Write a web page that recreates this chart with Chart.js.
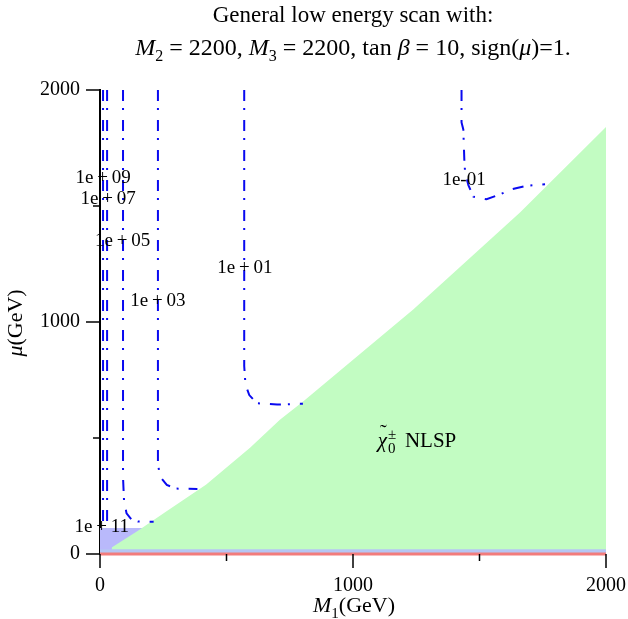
<!DOCTYPE html>
<html>
<head>
<meta charset="utf-8">
<script src="https://cdn.jsdelivr.net/npm/chart.js@4.4.0/dist/chart.umd.min.js"></script>
<style>
    body { margin: 0; background: #fff; }
    #wrap { width: 628px; height: 619px; }
</style>
</head>
<body>
<div id="wrap"><canvas id="chart" width="628" height="619"></canvas></div>
<script>
// axis ticks (only the thousands get a label)
const tickValues = [0, 500, 1000, 1500, 2000];

// chi0 NLSP region, upper edge (M1, mu)
const nlspM1 = [46, 150, 250, 420, 593, 711, 804, 1238, 1660, 2000];
const nlspMu = [28, 100, 175, 300, 458, 579, 658, 1054, 1472, 1840];

// small blue corner + thin band along mu = 0
const cornerM1 = [0, 178];
const cornerMu = [112, 112];
const bandM1 = [0, 2000];
const bandMu = [20, 20];
const baseM1 = [0, 2000];
const baseMu = [0, 0];

// contour lines, [M1, mu]
const contour1e09 = [[12, 2000], [12, 114]];
const contour1e07 = [[28, 2000], [28, 114]];
const contour1e05 = [[91, 2000], [91, 330], [95, 230], [105, 175], [125, 148], [150, 140], [212, 139]];
const contour1e03 = [[229, 2000], [229, 390], [237, 334], [264, 298], [300, 282], [385, 280]];
const contour1e01 = [[570, 2000], [570, 810], [575, 730], [590, 685], [620, 650], [700, 644], [802, 648]];
const contour1em1 = [[1429, 2000], [1429, 1860], [1436, 1830], [1440, 1700], [1443, 1645], [1456, 1590],
    [1476, 1540], [1528, 1529], [1581, 1550], [1627, 1572], [1686, 1587], [1759, 1594]];

// contour labels and where they sit
const labelText = ['1e\u2009+\u200909', '1e\u2009+\u200907', '1e\u2009+\u200905', '1e\u2009+\u200903', '1e\u2009+\u200901', '1e-01', '1e\u2009+\u200911'];
const labelM1 = [12, 32, 89, 229, 573, 1439, 7];
const labelMu = [1620, 1529, 1348, 1089, 1231, 1611, 117];

const regionLabelM1 = 1253;
const regionLabelMu = 490;

const FONT = '"Liberation Serif", "Times New Roman", serif';

const toPts = (xs, ys) => xs.map((v, i) => ({ x: v, y: ys[i] }));
const pairPts = arr => arr.map(p => ({ x: p[0], y: p[1] }));

function area(data, color, order) {
    return { data, showLine: true, fill: 'origin', backgroundColor: color, borderWidth: 0, pointRadius: 0, order };
}

function contour(arr) {
    return {
        data: pairPts(arr), showLine: true, fill: false, borderColor: '#0a0af0', borderWidth: 2,
        borderDash: [11, 7, 2, 10], pointRadius: 0, order: 1, tension: 0
    };
}

// draws a row of text pieces (italic / sub / sup) centred at cx, on baseline
function drawRich(ctx, segs, cx, base, size) {
    const fontOf = s => (s.it ? 'italic ' : '') + Math.round(s.sub || s.sup ? size * 0.7 : size) + 'px ' + FONT;
    let total = 0;
    segs.forEach(s => {
        ctx.font = fontOf(s);
        s.w = ctx.measureText(s.t).width;
        if (!s.keep) total += s.w;
    });
    let x = cx - total / 2;
    ctx.textAlign = 'left';
    ctx.textBaseline = 'alphabetic';
    segs.forEach(s => {
        ctx.font = fontOf(s);
        let dy = 0;
        if (s.sub) dy = size * 0.25;
        if (s.sup) dy = -size * 0.4;
        if (s.hat) dy = -size * 0.42;
        ctx.fillText(s.t, x + (s.dx || 0), base + dy);
        if (!s.keep) x += s.w;
    });
}

const overlay = {
    id: 'overlay',
    afterDraw(chart) {
        const { ctx, scales: { x, y } } = chart;
        ctx.save();
        ctx.fillStyle = '#000';
        ctx.strokeStyle = '#000';
        ctx.lineWidth = 1.5;

        // outward tick marks, long on labelled ones
        x.ticks.forEach(t => {
            const px = x.getPixelForValue(t.value);
            const len = t.value % 1000 === 0 ? 14 : 7;
            ctx.beginPath(); ctx.moveTo(px, y.bottom); ctx.lineTo(px, y.bottom + len); ctx.stroke();
        });
        y.ticks.forEach(t => {
            const py = y.getPixelForValue(t.value);
            const len = t.value % 1000 === 0 ? 14 : 7;
            ctx.beginPath(); ctx.moveTo(x.left, py); ctx.lineTo(x.left - len, py); ctx.stroke();
        });

        // contour labels
        ctx.font = '19px ' + FONT;
        ctx.textAlign = 'center';
        ctx.textBaseline = 'middle';
        labelText.forEach((t, i) => {
            ctx.fillText(t, x.getPixelForValue(labelM1[i]), y.getPixelForValue(labelMu[i]));
        });

        // region label
        drawRich(ctx, [
            { t: '\u02DC', hat: true, keep: true, dx: 2 },
            { t: 'χ', it: true },
            { t: '±', sup: true, keep: true, dx: 1 },
            { t: '0', sub: true, dx: 1 },
            { t: '  NLSP' }
        ], x.getPixelForValue(regionLabelM1), y.getPixelForValue(regionLabelMu) + 7, 21);

        // title
        drawRich(ctx, [{ t: 'General low energy scan with:' }], 353, 22, 22.5);
        drawRich(ctx, [
            { t: 'M', it: true }, { t: '2', sub: true }, { t: ' = 2200, ' },
            { t: 'M', it: true }, { t: '3', sub: true }, { t: ' = 2200, tan ' },
            { t: 'β', it: true }, { t: ' = 10, sign(' }, { t: 'μ', it: true }, { t: ')=1.' }
        ], 353, 55, 23.5);

        // axis titles
        drawRich(ctx, [{ t: 'M', it: true }, { t: '1', sub: true }, { t: '(GeV)' }], 354, 612, 22);
        ctx.translate(22, 323);
        ctx.rotate(-Math.PI / 2);
        drawRich(ctx, [{ t: 'μ', it: true }, { t: '(GeV)' }], 0, 0, 22);
        ctx.restore();
    }
};

const tickFont = { family: FONT, size: 20 };

new Chart(document.getElementById('chart'), {
    type: 'scatter',
    data: {
        datasets: [
            contour(contour1e09),
            contour(contour1e07),
            contour(contour1e05),
            contour(contour1e03),
            contour(contour1e01),
            contour(contour1em1),
            { data: toPts(baseM1, baseMu), showLine: true, borderColor: '#f27c7c', borderWidth: 3, pointRadius: 0, order: 2, clip: false },
            area(toPts(bandM1, bandMu), '#b6c6f4', 3),
            area(toPts(nlspM1, nlspMu), '#c2fcc2', 4),
            area(toPts(cornerM1, cornerMu), '#b9b9fb', 5)
        ]
    },
    options: {
        responsive: false,
        animation: false,
        layout: { padding: { top: 90, right: 22, bottom: 20, left: 0 } },
        plugins: { legend: { display: false }, tooltip: { enabled: false } },
        scales: {
            x: {
                type: 'linear', min: 0, max: 2000, z: 1,
                ticks: {
                    stepSize: 500, autoSkip: false, maxRotation: 0, padding: 20, color: '#000', font: tickFont,
                    callback: v => (tickValues.includes(v) && v % 1000 === 0) ? String(v) : ''
                },
                grid: { display: false, drawTicks: false },
                border: { display: false },
                afterFit: s => { s.height = 45; s.paddingLeft = 0; s.paddingRight = 0; }
            },
            y: {
                type: 'linear', min: 0, max: 2000, z: 1,
                ticks: {
                    stepSize: 500, autoSkip: false, padding: 20, color: '#000', font: tickFont,
                    callback: v => (tickValues.includes(v) && v % 1000 === 0) ? String(v) : ''
                },
                grid: { display: false, drawTicks: false },
                border: { display: true, color: '#000', width: 2 },
                afterFit: s => { s.width = 100; s.paddingTop = 0; s.paddingBottom = 0; }
            }
        }
    },
    plugins: [overlay]
});
</script>
</body>
</html>
